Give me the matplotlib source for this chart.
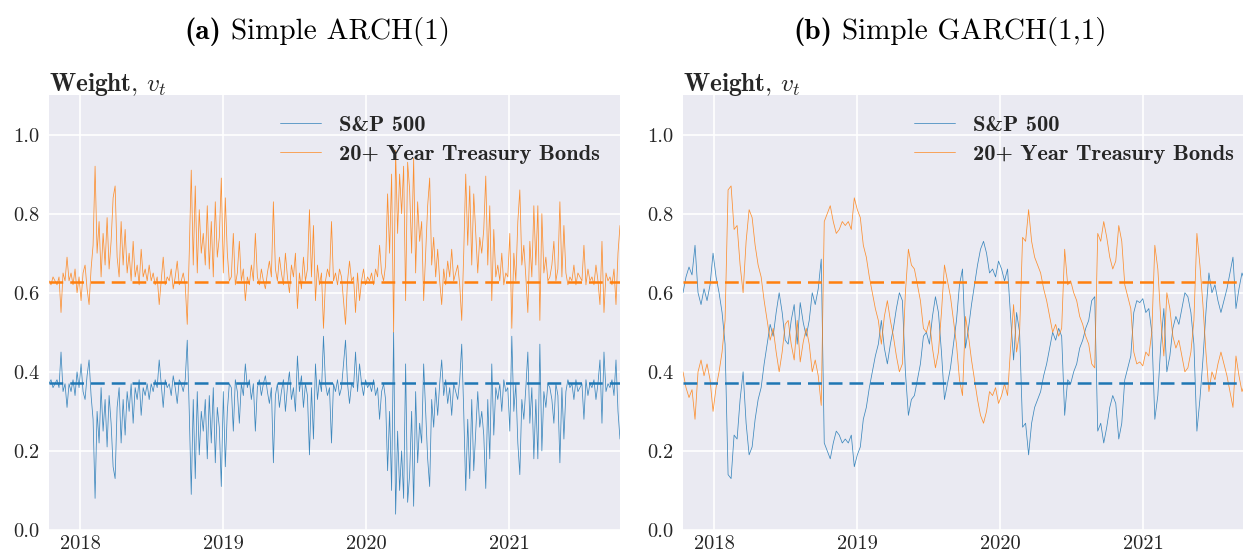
import numpy as np
import pandas as pd
import matplotlib
matplotlib.use("Agg")
import matplotlib.pyplot as plt
import matplotlib.dates as mdates
from matplotlib.font_manager import FontProperties
import seaborn as sns

sns.set_theme(style="darkgrid")
plt.rcParams["font.family"] = "serif"
plt.rcParams["font.serif"] = ["cmr10"]
plt.rcParams["mathtext.fontset"] = "cm"
plt.rcParams["axes.formatter.use_mathtext"] = True
plt.rcParams["axes.unicode_minus"] = False

# Sample window
start_date = "2017-10-13"
end_date = "2021-10-11"

# S&P 500 weight v_t under the simple ARCH(1) rule
arch_sp500 = [
    0.37, 0.38, 0.36, 0.37, 0.38, 0.36, 0.45, 0.35, 0.37, 0.31,
    0.37, 0.35, 0.38, 0.34, 0.40, 0.36, 0.42, 0.35, 0.33, 0.39,
    0.43, 0.34, 0.28, 0.08, 0.30, 0.22, 0.36, 0.25, 0.33, 0.21,
    0.34, 0.27, 0.16, 0.13, 0.31, 0.36, 0.22, 0.33, 0.24, 0.35,
    0.30, 0.37, 0.27, 0.36, 0.33, 0.38, 0.29, 0.36, 0.34, 0.37,
    0.33, 0.37, 0.35, 0.38, 0.36, 0.43, 0.37, 0.31, 0.38, 0.36,
    0.37, 0.34, 0.39, 0.36, 0.32, 0.38, 0.37, 0.35, 0.38, 0.48,
    0.30, 0.09, 0.33, 0.13, 0.35, 0.19, 0.30, 0.25, 0.33, 0.18,
    0.34, 0.22, 0.36, 0.17, 0.31, 0.26, 0.11, 0.35, 0.16, 0.30,
    0.37, 0.36, 0.25, 0.38, 0.35, 0.27, 0.37, 0.34, 0.42, 0.36,
    0.38, 0.33, 0.37, 0.25, 0.36, 0.38, 0.34, 0.37, 0.39, 0.35,
    0.32, 0.36, 0.17, 0.34, 0.37, 0.31, 0.35, 0.38, 0.30, 0.36,
    0.40, 0.33, 0.36, 0.30, 0.44, 0.35, 0.39, 0.31, 0.37, 0.34,
    0.19, 0.36, 0.23, 0.42, 0.33, 0.38, 0.35, 0.49, 0.37, 0.34,
    0.36, 0.22, 0.37, 0.35, 0.38, 0.34, 0.36, 0.42, 0.48, 0.37,
    0.32, 0.37, 0.36, 0.45, 0.35, 0.42, 0.37, 0.34, 0.38, 0.36,
    0.37, 0.35, 0.38, 0.34, 0.36, 0.28, 0.35, 0.37, 0.33, 0.15,
    0.30, 0.10, 0.50, 0.04, 0.25, 0.10, 0.20, 0.08, 0.42, 0.07,
    0.14, 0.30, 0.06, 0.35, 0.17, 0.27, 0.22, 0.42, 0.30, 0.18,
    0.11, 0.33, 0.26, 0.36, 0.29, 0.37, 0.43, 0.34, 0.38, 0.32,
    0.36, 0.29, 0.37, 0.35, 0.33, 0.38, 0.47, 0.30, 0.10, 0.28,
    0.13, 0.33, 0.15, 0.25, 0.35, 0.26, 0.30, 0.24, 0.105, 0.33,
    0.18, 0.42, 0.24, 0.36, 0.33, 0.37, 0.30, 0.38, 0.35, 0.36,
    0.25, 0.49, 0.30, 0.37, 0.22, 0.14, 0.33, 0.28, 0.36, 0.45,
    0.27, 0.36, 0.18, 0.33, 0.18, 0.47, 0.20, 0.35, 0.31, 0.37,
    0.36, 0.33, 0.27, 0.37, 0.34, 0.17, 0.36, 0.23, 0.35, 0.38,
    0.36, 0.37, 0.33, 0.38, 0.35, 0.36, 0.37, 0.28, 0.38, 0.34,
    0.37, 0.36, 0.38, 0.33, 0.37, 0.43, 0.27, 0.45, 0.35, 0.37,
    0.36, 0.38, 0.34, 0.43, 0.30, 0.23,
]

# S&P 500 weight v_t under the simple GARCH(1,1) rule
garch_sp500 = [
    0.60, 0.64, 0.665, 0.645, 0.72, 0.60, 0.57, 0.61, 0.58, 0.62,
    0.70, 0.64, 0.60, 0.55, 0.47, 0.14, 0.13, 0.24, 0.23, 0.33,
    0.40, 0.27, 0.19, 0.21, 0.28, 0.33, 0.36, 0.42, 0.47, 0.52,
    0.49, 0.55, 0.60, 0.55, 0.48, 0.47, 0.53, 0.57, 0.47, 0.575,
    0.525, 0.49, 0.53, 0.60, 0.57, 0.61, 0.685, 0.22, 0.20, 0.18,
    0.22, 0.25, 0.24, 0.22, 0.23, 0.22, 0.24, 0.16, 0.19, 0.21,
    0.28, 0.31, 0.36, 0.40, 0.44, 0.47, 0.53, 0.46, 0.42, 0.47,
    0.51, 0.56, 0.60, 0.58, 0.40, 0.29, 0.33, 0.34, 0.38, 0.42,
    0.49, 0.50, 0.47, 0.54, 0.59, 0.55, 0.45, 0.33, 0.37, 0.41,
    0.47, 0.53, 0.62, 0.66, 0.46, 0.51, 0.57, 0.62, 0.67, 0.71,
    0.73, 0.70, 0.65, 0.66, 0.64, 0.68, 0.66, 0.63, 0.66, 0.54,
    0.43, 0.55, 0.50, 0.26, 0.27, 0.19, 0.27, 0.31, 0.33, 0.35,
    0.39, 0.42, 0.46, 0.50, 0.48, 0.51, 0.49, 0.29, 0.38, 0.37,
    0.40, 0.42, 0.46, 0.48, 0.51, 0.53, 0.58, 0.59, 0.25, 0.27,
    0.22, 0.26, 0.31, 0.34, 0.32, 0.23, 0.27, 0.38, 0.41, 0.44,
    0.55, 0.58, 0.575, 0.585, 0.55, 0.56, 0.50, 0.28, 0.34, 0.47,
    0.56, 0.40, 0.44, 0.51, 0.54, 0.52, 0.56, 0.60, 0.59, 0.55,
    0.47, 0.25, 0.33, 0.43, 0.55, 0.65, 0.60, 0.62, 0.58, 0.55,
    0.58, 0.61, 0.65, 0.69, 0.56, 0.61, 0.65, 0.63, 0.60, 0.62,
    0.61,
]

# Long-run (unconditional) weights shown as dashed references
sp500_mean = 0.372
bonds_mean = 0.628

series_labels = ["S&P 500", "20+ Year Treasury Bonds"]
panel_tags = ["(a)", "(b)"]
panel_names = ["Simple ARCH(1)", "Simple GARCH(1,1)"]
year_ticks = ["2018-01-01", "2019-01-01", "2020-01-01", "2021-01-01"]
y_ticks = [0.0, 0.2, 0.4, 0.6, 0.8, 1.0]

blue = "#1f77b4"
orange = "#ff7f0e"
text_color = "#262626"

W, H = 1243, 555
fig = plt.figure(figsize=(W / 100, H / 100), dpi=100)
renderer = fig.canvas.get_renderer()

ax_w = 571 / W
ax_h = 435 / H
ax_b = 25 / H
axes = [fig.add_axes([49 / W, ax_b, ax_w, ax_h]),
        fig.add_axes([683 / W, ax_b, ax_w, ax_h])]

t0, t1 = pd.Timestamp(start_date), pd.Timestamp(end_date)
legend_font = FontProperties(family="cmb10", size=16.2)
title_size = 21
tag_font = FontProperties(family="cmb10", size=title_size)
name_font = FontProperties(family="cmr10", size=title_size)

for ax, sp, tag, name, tx in zip(axes, [arch_sp500, garch_sp500],
                                 panel_tags, panel_names, [317, 950]):
    sp = np.asarray(sp, dtype=float)
    bonds = 1.0 - sp
    dates = pd.date_range(t0, t1, periods=len(sp))
    ax.plot(dates, sp, color=blue, lw=0.55, alpha=0.85, label=series_labels[0])
    ax.plot(dates, bonds, color=orange, lw=0.55, alpha=0.85, label=series_labels[1])
    ax.axhline(sp500_mean, color=blue, lw=1.8, ls=(0, (5.5, 2.8)))
    ax.axhline(bonds_mean, color=orange, lw=1.8, ls=(0, (5.5, 2.8)))

    ax.set_xlim(t0, t1)
    ax.set_ylim(0, 1.1)
    ax.set_yticks(y_ticks)
    ax.yaxis.set_major_formatter(matplotlib.ticker.FormatStrFormatter("%.1f"))
    ax.set_xticks(pd.to_datetime(year_ticks))
    ax.xaxis.set_major_formatter(mdates.DateFormatter("%Y"))
    ax.tick_params(axis="both", labelsize=14.7, length=0, colors=text_color)
    ax.tick_params(axis="y", pad=7)
    ax.tick_params(axis="x", pad=4)
    ax.grid(True, color="white", lw=1.2)
    ax.set_facecolor("#EAEAF2")
    for s in ax.spines.values():
        s.set_visible(False)

    ax.text(0, 1 + 4 / 435, r"$\mathbf{Weight,}\,v_t$", transform=ax.transAxes,
            ha="left", va="baseline", fontsize=18.3, color=text_color)
    leg = ax.legend(loc="upper right", frameon=False, prop=legend_font,
                    handlelength=1.8, labelspacing=0.4)
    for t in leg.get_texts():
        t.set_color(text_color)

    # Panel caption: bold tag followed by the model name, centred as a whole
    ty = 1 - 32 / H
    t_tag = fig.text(0, ty, tag, fontproperties=tag_font, ha="left", va="center",
                     color="black")
    t_name = fig.text(0, ty, name, fontproperties=name_font, ha="left", va="center",
                      color="black")
    w_tag = t_tag.get_window_extent(renderer).width
    w_name = t_name.get_window_extent(renderer).width
    gap = 0.333 * title_size * 100 / 72
    left = tx - (w_tag + gap + w_name) / 2
    t_tag.set_x(left / W)
    t_name.set_x((left + w_tag + gap) / W)

fig.savefig("out.png", dpi=100)
